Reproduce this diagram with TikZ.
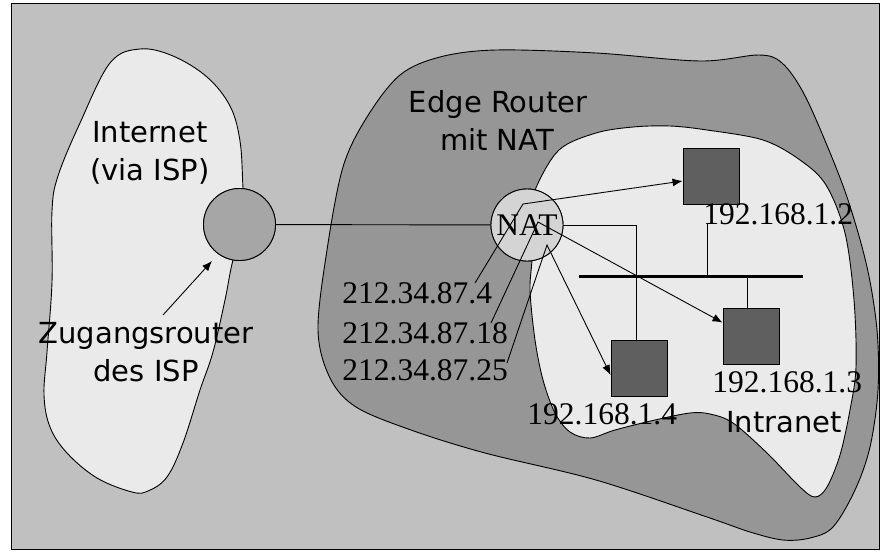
\documentclass[tikz,border=0pt]{standalone}
\usepackage{fontspec}
\setmainfont{Liberation Serif}
\newfontfamily\lblfont{DejaVu Sans}
\usetikzlibrary{arrows.meta}
\definecolor{bgc}{HTML}{C0C0C0}
\definecolor{palec}{HTML}{EAEAEA}
\definecolor{edgec}{HTML}{969696}
\definecolor{natc}{HTML}{D4D4D4}
\definecolor{rtc}{HTML}{A6A6A6}
\definecolor{hostc}{HTML}{5F5F5F}
\begin{document}
\begin{tikzpicture}[x=1pt,y=-1pt,line width=0.9pt,
  blob/.style={draw=black,line width=0.9pt},
  sanslbl/.style={font=\lblfont\fontsize{29}{34}\selectfont,inner sep=0pt,anchor=base},
  seriflbl/.style={font=\fontsize{31.5}{36}\selectfont,inner sep=0pt,anchor=base west},
  hostbox/.style={draw=black,fill=hostc,minimum size=56pt,inner sep=0pt},
  roundnode/.style={circle,draw=black,minimum size=72pt,inner sep=0pt},
  arr/.style={-{Latex[length=10pt,width=8pt]}}]
\useasboundingbox (0,0) rectangle (881,552);
% frame
\fill[white] (0,0) rectangle (881,552);
\draw[fill=bgc] (11,3.5) rectangle (879,549);
% Internet blob
\draw[blob,fill=palec] plot[smooth cycle,tension=0.6] coordinates {
 (140,49) (173,56) (207,77) (230,106) (240,141) (243,188) (245,225) (233,260)
 (225,300) (213,352) (200,390) (183,443) (167,477) (148,491) (132,492)
 (97,478) (67,453) (50,427) (44,395) (47,352) (52,282) (52,211) (58,176)
 (80,123) (110,63)};
% Edge router region
\draw[blob,fill=edgec] plot[smooth cycle,tension=0.55] coordinates {
 (327,250) (343,167) (367,117) (400,75) (440,57) (496,50) (596,53) (700,61)
 (759,55) (782,63) (803,92) (826,143) (848,200) (867,267) (877,330) (878,390)
 (870,447) (855,490) (833,527) (810,538) (783,540) (750,532) (707,517)
 (596,480) (485,453) (411,430) (356,407) (330,378) (318,330)};
% Intranet region
\draw[blob,fill=palec] plot[smooth cycle,tension=0.55] coordinates {
 (535,190) (559,150) (596,133) (633,127) (670,126) (707,130) (763,140)
 (800,160) (826,185) (845,233) (854,300) (856,367) (850,410) (840,455)
 (827,487) (815,497) (800,487) (767,453) (733,423) (710,414) (690,413)
 (655,420) (615,430) (590,438) (570,432) (555,413) (543,380) (535,340)
 (530,290) (532,255) (527,225)};
% nodes
\node[roundnode,fill=rtc] (router) at (239.5,224.5) {};
\node[roundnode,fill=natc,font=\fontsize{31.5}{36}\selectfont] (nat) at (527,225) {};
\node[hostbox] (h2) at (711,176) {};
\node[hostbox] (h3) at (751,336) {};
\node[hostbox] (h4) at (639,368) {};
% connectors under circles
\draw (router) -- (nat);
\node[roundnode,fill=rtc] at (router) {};
\node[roundnode,fill=natc] at (nat) {};
\node[font=\fontsize{31.5}{36}\selectfont,inner sep=0pt] (nattext) at (527,225) {NAT};
% labels
\node[sanslbl] (inet1) at (150,142) {Internet};
\node[sanslbl] (inet2) at (150,180) {(via ISP)};
\node[sanslbl] (zug1) at (146,343) {Zugangsrouter};
\node[sanslbl] (zug2) at (146,381) {des ISP};
\node[sanslbl] (edge1) at (498,112) {Edge Router};
\node[sanslbl] (edge2) at (497,150) {mit NAT};
\node[sanslbl] (intra) at (784,432) {Intranet};
\node[seriflbl] (ip1) at (342,303) {212.34.87.4};
\node[seriflbl] (ip2) at (342,343) {212.34.87.18};
\node[seriflbl] (ip3) at (342,380) {212.34.87.25};
\node[seriflbl] (l2) at (703,224) {192.168.1.2};
\node[seriflbl] (l3) at (712,392) {192.168.1.3};
\node[seriflbl] (l4) at (527,424) {192.168.1.4};
% coordinates
\coordinate (zstart) at (163,315);
\coordinate (ztip) at (212,261);
\coordinate (e1) at (475,283);
\coordinate (e2) at (491,323);
\coordinate (e3) at (507,363);
\coordinate (j1) at (523,204);
\coordinate (j2) at (538,222);
\coordinate (j3) at (547,245);
\coordinate (busL) at (579,276);
\coordinate (busR) at (803,276);
% connectors
\draw[arr] (zstart) -- (ztip);
\draw[arr] (e1) -- (j1) -- ([yshift=-5pt]h2.west);
\draw[arr] (e2) -- (j2) -- ([yshift=-15pt]h3.north west);
\draw[arr] (e3) -- (j3) -- ([yshift=-7pt]h4.west);
\draw (nat.east) -| ([xshift=-3pt]h4.north);
\draw[line width=3pt] (busL) -- (busR);
\draw ([xshift=-4pt]h2.south |- l2.base) -- ([xshift=-4pt]h2.south |- busL);
\draw ([xshift=-4pt]h3.north) -- ([xshift=-4pt]h3.north |- busL);
\end{tikzpicture}
\end{document}
